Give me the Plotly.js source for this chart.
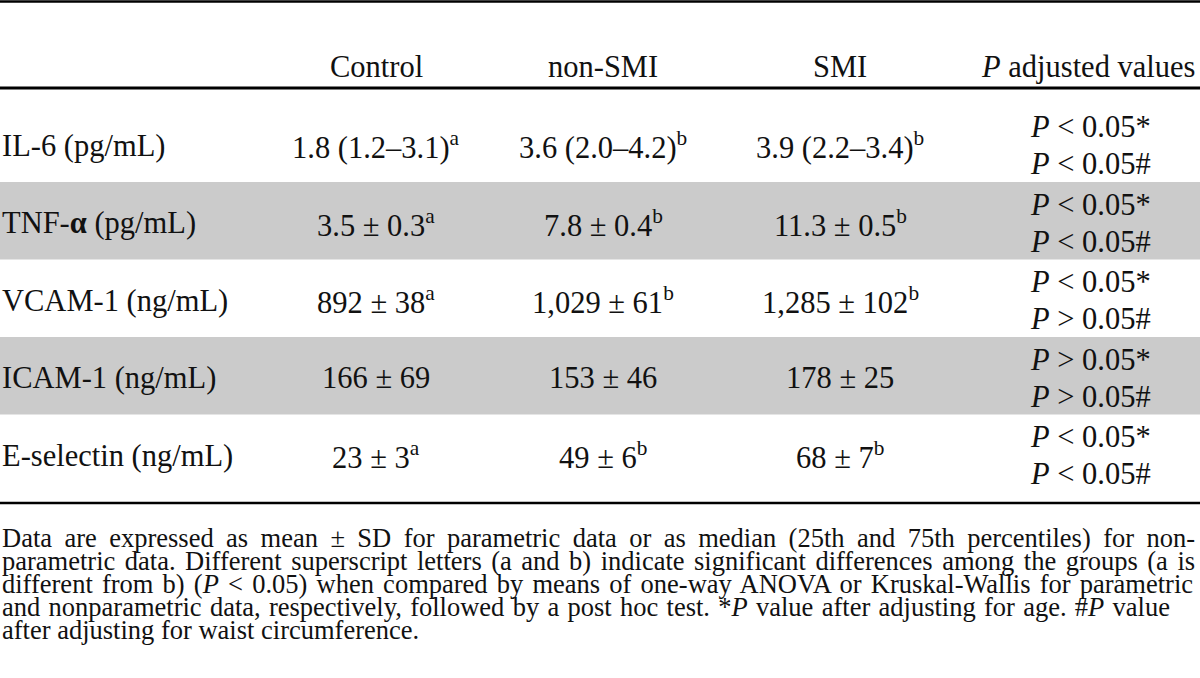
<!DOCTYPE html>
<html>
<head>
<meta charset="utf-8">
<script src="https://cdn.plot.ly/plotly-3.0.1.min.js"></script>
<style>html,body{margin:0;padding:0;background:#fff;}#chart{width:1200px;height:678px;}</style>
</head>
<body>
<div id="chart"></div>
<script>
// ---- data ----
const groups = ["Control", "non-SMI", "SMI"];
const pHeader = "<i>P</i> adjusted values";
const markers = ["IL-6 (pg/mL)", "TNF-<b>α</b> (pg/mL)", "VCAM-1 (ng/mL)", "ICAM-1 (ng/mL)", "E-selectin (ng/mL)"];
const controlValues = ["1.8 (1.2–3.1)", "3.5 ± 0.3", "892 ± 38", "166 ± 69", "23 ± 3"];
const controlSup = ["a", "a", "a", "", "a"];
const nonSmiValues = ["3.6 (2.0–4.2)", "7.8 ± 0.4", "1,029 ± 61", "153 ± 46", "49 ± 6"];
const nonSmiSup = ["b", "b", "b", "", "b"];
const smiValues = ["3.9 (2.2–3.4)", "11.3 ± 0.5", "1,285 ± 102", "178 ± 25", "68 ± 7"];
const smiSup = ["b", "b", "b", "", "b"];
const pAgeSign = ["&lt;", "&lt;", "&lt;", "&gt;", "&lt;"];
const pWaistSign = ["&lt;", "&lt;", "&gt;", "&gt;", "&lt;"];
const pThreshold = "0.05";
const shadedRows = [false, true, false, true, false];
const footnoteLines = [
  "Data are expressed as mean ± SD for parametric data or as median (25th and 75th percentiles) for non-",
  "parametric data. Different superscript letters (a and b) indicate significant differences among the groups (a is",
  "different from b) (<i>P</i> &lt; 0.05) when compared by means of one-way ANOVA or Kruskal-Wallis for parametric",
  "and nonparametric data, respectively, followed by a post hoc test. *<i>P</i> value after adjusting for age. #<i>P</i> value",
  "after adjusting for waist circumference."
];

// ---- layout constants ----
const W = 1200, H = 678;
const FONT = "Liberation Serif, Times New Roman, serif";
const ink = "#111111";
const shade = "#cbcbcb";
const cellSize = 30.5;
const footSize = 26.5;
const colX = [376, 603, 840, 1088];
const labelX = 0;
const topRuleY = 1.5, headerY = 67, headerRuleY = 88, bottomRuleY = 503;
const firstRowTop = 104.5, rowPitch = 77.5;
const pLineGap = 18.5;
const footTop = 538, footPitch = 23;
const footRightEdge = [1195, 1195, 1193, 1170, null];

const annotations = [];
const shapes = [];
function txt(x, y, text, opts) {
  annotations.push(Object.assign({
    x: x, y: y, xref: "x", yref: "y", text: text, showarrow: false,
    xanchor: "center", yanchor: "middle",
    font: {family: FONT, size: cellSize, color: ink}
  }, opts || {}));
  return annotations.length - 1;
}

// header
groups.forEach((g, i) => txt(colX[i], headerY, g));
txt(colX[3], headerY, pHeader);

// rows
const valueCols = [[controlValues, controlSup], [nonSmiValues, nonSmiSup], [smiValues, smiSup]];
markers.forEach((m, r) => {
  const top = firstRowTop + r * rowPitch;
  const mid = top + rowPitch / 2 + 2.5;
  if (shadedRows[r]) {
    shapes.push({type: "rect", xref: "x", yref: "y", x0: 0, x1: W, y0: top, y1: top + rowPitch,
      fillcolor: shade, line: {width: 0}, layer: "below"});
  }
  txt(labelX, mid, m, {xanchor: "left"});
  valueCols.forEach((vc, c) => {
    const s = vc[1][r] ? "<sup>" + vc[1][r] + "</sup>" : "";
    txt(colX[c], mid, vc[0][r] + s);
  });
  txt(colX[3] + 2, mid - pLineGap, "<i>P</i> " + pAgeSign[r] + " " + pThreshold + "*");
  txt(colX[3] + 2, mid + pLineGap, "<i>P</i> " + pWaistSign[r] + " " + pThreshold + "#");
});

// rules
[[topRuleY, 2.5], [headerRuleY, 3], [bottomRuleY, 2.5]].forEach(([y, w]) => {
  shapes.push({type: "line", xref: "x", yref: "y", x0: 0, x1: W, y0: y, y1: y,
    line: {color: "#000", width: w}});
});

// footnote (one text box per printed line, justified after drawing)
const footIdx = footnoteLines.map((line, i) =>
  txt(labelX, footTop + i * footPitch, line, {
    xanchor: "left", align: "left",
    width: W - 4,
    font: {family: FONT, size: footSize, color: ink}
  })
);

const layout = {
  width: W, height: H,
  margin: {l: 0, r: 0, t: 0, b: 0, pad: 0},
  paper_bgcolor: "#ffffff", plot_bgcolor: "#ffffff",
  showlegend: false,
  xaxis: {range: [0, W], visible: false, fixedrange: true},
  yaxis: {range: [H, 0], visible: false, fixedrange: true},
  annotations: annotations,
  shapes: shapes
};
Plotly.newPlot("chart", [{x: [], y: [], type: "scatter", hoverinfo: "skip"}], layout,
  {staticPlot: true, displayModeBar: false}).then(() => {
  // justify footnote lines like the printed paragraph
  footIdx.forEach((ai, i) => {
    const target = footRightEdge[i];
    if (!target) return;
    const g = document.querySelector('#chart .annotation[data-index="' + ai + '"]');
    if (!g) return;
    const t = g.querySelector('text.annotation-text');
    if (!t) return;
    const bb = t.getBoundingClientRect();
    const nSpaces = (t.textContent.match(/ /g) || []).length;
    if (!nSpaces) return;
    const ws = (target - bb.right) / nSpaces;
    if (ws > 0) t.style.wordSpacing = ws.toFixed(2) + "px";
  });
});
</script>
</body>
</html>
